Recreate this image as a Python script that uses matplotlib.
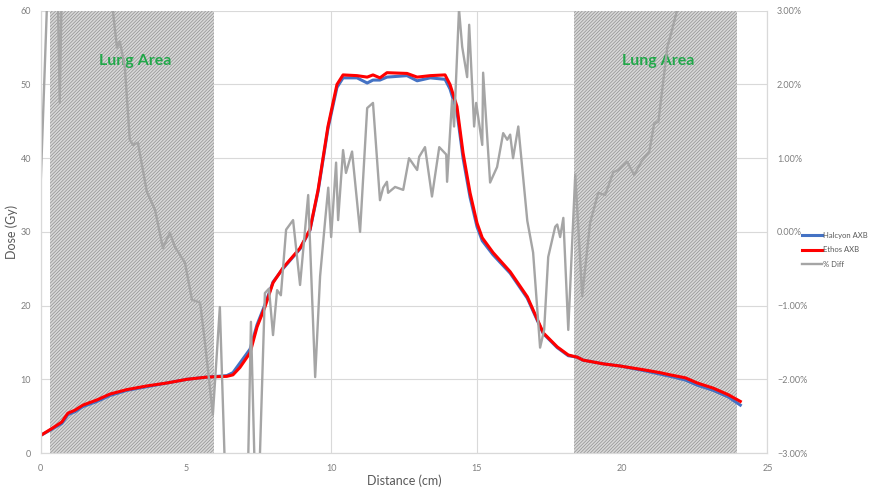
import matplotlib.pyplot as plt
from matplotlib.ticker import PercentFormatter

# dose profiles (cm, Gy)
distance = [0, 0.41, 0.72, 0.93, 1.17, 1.45, 1.93, 2.38, 2.96, 3.65,
            4.34, 5.03, 5.72, 6.4, 6.61, 6.85, 7.2, 7.44, 7.71, 7.99,
            8.33, 8.92, 9.26, 9.54, 9.88, 10.19, 10.4, 10.88, 11.23, 11.43,
            11.67, 11.91, 12.6, 12.95, 13.4, 13.91, 14.08, 14.32, 14.53, 14.77,
            15.01, 15.19, 15.56, 16.15, 16.74, 17.29, 17.77, 18.15, 18.46, 18.66,
            19.35, 19.94, 20.73, 21.31, 21.66, 22.18, 22.59, 23.14, 23.66, 24.07]

ethos = [2.4, 3.4, 4.2, 5.4, 5.8, 6.5, 7.2, 8.0, 8.6, 9.1,
         9.5, 10.0, 10.3, 10.4, 10.6, 11.6, 13.6, 17.1, 19.8, 23.1,
         25.1, 27.8, 30.3, 35.7, 44.3, 50.0, 51.3, 51.2, 51.0, 51.3,
         50.9, 51.6, 51.5, 51.0, 51.2, 51.3, 50.0, 47.0, 40.7, 35.3,
         31.2, 29.2, 27.2, 24.6, 21.2, 16.3, 14.4, 13.3, 13.0, 12.6,
         12.1, 11.8, 11.3, 10.9, 10.6, 10.2, 9.5, 8.8, 7.9, 7.0]

halcyon = [2.4, 3.3, 4.0, 5.2, 5.6, 6.3, 7.0, 7.8, 8.5, 9.0,
           9.5, 10.0, 10.3, 10.5, 10.9, 12.2, 14.1, 17.4, 20.1, 23.2,
           25.0, 27.7, 30.2, 35.5, 44.0, 49.6, 50.9, 50.9, 50.2, 50.6,
           50.6, 51.0, 51.2, 50.5, 50.9, 50.7, 49.4, 46.3, 40.0, 34.7,
           30.7, 28.8, 26.9, 24.4, 21.0, 16.2, 14.3, 13.2, 13.0, 12.6,
           12.1, 11.8, 11.2, 10.7, 10.4, 9.9, 9.2, 8.5, 7.6, 6.5]

# % difference (secondary axis), values past +-3% run off the chart
diff_x = [0, 0.24, 0.58, 0.65, 0.72, 2.4, 2.45, 2.62, 2.72, 2.89,
          3.06, 3.17, 3.34, 3.65, 3.93, 4.2, 4.44, 4.61, 4.96, 5.2,
          5.48, 5.65, 5.92, 6.16, 6.35, 7.12, 7.23, 7.37, 7.51, 7.71,
          7.85, 7.99, 8.13, 8.26, 8.44, 8.68, 8.92, 9.2, 9.44, 9.61,
          9.78, 9.89, 9.99, 10.16, 10.23, 10.4, 10.5, 10.71, 10.985, 11.23,
          11.43, 11.67, 11.78, 11.91, 11.95, 12.19, 12.47, 12.67, 12.95, 13.02,
          13.22, 13.46, 13.71, 13.95, 13.98, 14.15, 14.22, 14.39, 14.5, 14.67,
          14.74, 14.91, 14.98, 15.19, 15.22, 15.46, 15.7, 15.91, 16.05, 16.15,
          16.25, 16.43, 16.74, 16.94, 17.18, 17.32, 17.46, 17.7, 17.77, 17.87,
          17.98, 18.15, 18.39, 18.63, 18.9, 19.18, 19.42, 19.7, 19.87, 20.18,
          20.42, 20.66, 20.94, 21.11, 21.25, 21.56, 21.66, 21.87, 22.3]

diff_pct = [0.72, 3.4, 3.3, 1.75, 3.3, 3.4, 3.1, 2.5, 2.58, 2.24,
            1.25, 1.18, 1.21, 0.54, 0.30, -0.22, -0.01, -0.2, -0.42, -0.92,
            -0.96, -1.51, -2.48, -1.02, -3.4, -3.4, -1.22, -3.4, -3.4, -0.83,
            -0.77, -1.40, -0.79, -0.86, 0.03, 0.16, -0.72, 0.50, -1.97, -0.6,
            0.14, 0.6, -0.07, 0.94, 0.16, 1.11, 0.80, 1.09, 0.0, 1.68,
            1.75, 0.43, 0.60, 0.68, 0.53, 0.61, 0.57, 1.0, 0.84, 1.02,
            1.15, 0.48, 1.15, 1.05, 0.68, 1.79, 1.43, 3.02, 2.51, 2.1,
            2.81, 1.43, 1.75, 1.18, 2.16, 0.67, 0.88, 1.34, 1.25, 1.32,
            1.0, 1.43, 0.15, -0.28, -1.57, -1.33, -0.34, 0.07, 0.10, -0.07,
            0.19, -1.33, 0.78, -0.87, 0.12, 0.53, 0.50, 0.81, 0.84, 0.95,
            0.77, 0.95, 1.09, 1.48, 1.49, 2.51, 2.65, 2.97, 4.0]

lung_areas = [(0.31, 5.96), (18.35, 23.97)]

plt.rcParams['font.family'] = ['Lato', 'DejaVu Sans']
plt.rcParams['hatch.linewidth'] = 0.5

fig = plt.figure(figsize=(8.69, 4.90), dpi=100)
ax = fig.add_axes([0.047, 0.0755, 0.836, 0.9025])
ax2 = ax.twinx()

for a, b in lung_areas:
    ax.axvspan(a, b, facecolor='#d8d8d8', edgecolor='#909090', hatch='//////////',
               linewidth=0, zorder=1)
    ax.text((a + b) / 2 + 0.1, 53.2, 'Lung Area', color='#22a84a', fontsize=11.5,
            fontweight='bold', ha='center', va='center', zorder=3)

l1, = ax.plot(distance, halcyon, color='#4472c4', lw=2.2, zorder=2, label='Halcyon AXB')
l2, = ax.plot(distance, ethos, color='#ff0000', lw=2.2, zorder=2.1, label='Ethos AXB')
l3, = ax2.plot(diff_x, diff_pct, color='#a5a5a5', lw=1.7, label='% Diff')

ax.set_xlim(0, 25)
ax.set_ylim(0, 60)
ax2.set_ylim(-3, 3)
ax.set_xticks([0, 5, 10, 15, 20, 25])
ax.set_yticks(range(0, 61, 10))
ax2.set_yticks(range(-3, 4))
ax2.yaxis.set_major_formatter(PercentFormatter(decimals=2))

ax.grid(True, color='#d9d9d9', lw=0.8, zorder=0)
ax.set_axisbelow(True)
for a_ in (ax, ax2):
    a_.spines['top'].set_visible(False)
    for s in ['left', 'bottom', 'right']:
        a_.spines[s].set_color('#d9d9d9')
    a_.tick_params(length=0, labelsize=6.5, labelcolor='#7f7f7f')
ax.tick_params(axis='x', pad=8)
ax.tick_params(axis='y', pad=7)
ax2.tick_params(axis='y', pad=7)

ax.set_xlabel('Distance (cm)', fontsize=9, color='#595959', labelpad=1)
ax.set_ylabel('Dose (Gy)', fontsize=9, color='#595959', labelpad=2)

fig.legend(handles=[l1, l2, l3], loc='center left', bbox_to_anchor=(0.915, 0.49),
           frameon=False, fontsize=5.5, handlelength=2.6, handletextpad=0.2,
           labelspacing=1.0, labelcolor='#595959')

fig.savefig('out.png', dpi=100)
